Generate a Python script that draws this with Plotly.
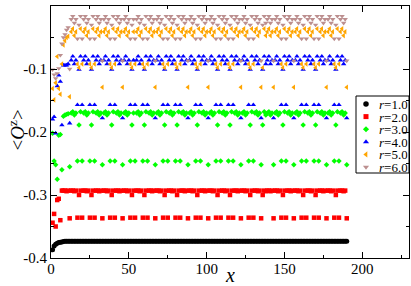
import plotly.graph_objects as go

# ---------------- data ----------------
X = list(range(1, 191))

PATTERN = ("acbLMaLbac" "bDbacbLMaL" "bacbLMaLba" "cbDbacbLMa" "LbacbDbacb"
           "LMbLbacbLM" "aLbacbDbac" "bLMaLbacbL" "MaLbacbDba" "cbLMaLbacb"
           "DbacbLMaLb" "acbLMaLbac" "bDbacbLMaL" "bacbDMacba" "cbDbacbLMa"
           "LbacbDbacb" "LMaLbacbLM" "aLbacbDbac" "bLMaLbacbD")

# band values of each series
LEV_R1 = {"a": -0.3735, "b": -0.3735, "c": -0.3735, "M": -0.3735, "L": -0.3735, "D": -0.3735}
LEV_R2 = {"a": -0.293, "b": -0.293, "c": -0.294, "M": -0.300, "L": -0.336, "D": -0.337}
LEV_R3 = {"a": -0.168, "b": -0.170, "c": -0.173, "M": -0.189, "L": -0.246, "D": -0.252}
LEV_R4 = {"a": -0.080, "b": -0.086, "c": -0.092, "M": -0.101, "L": -0.157, "D": -0.178}
LEV_R5 = {"a": -0.036, "b": -0.041, "c": -0.047, "M": -0.098, "L": -0.092, "D": -0.129}
LEV_R6 = {"a": -0.016, "b": -0.021, "c": -0.027, "M": -0.030, "L": -0.052, "D": -0.087}

# values near the open end (x = 1, 2, ...)
EARLY_R1 = [-0.387, -0.381, -0.378, -0.3765, -0.3755, -0.375, -0.3745, -0.374]
EARLY_R2 = [-0.344, -0.330, -0.350, -0.308, -0.306, -0.340, -0.293]
EARLY_R3 = [-0.202, -0.246, -0.252, -0.275, -0.205, -0.204, -0.260, -0.175, -0.173, -0.172, -0.171, -0.255]
EARLY_R4 = [-0.180, -0.176, -0.202, -0.127, -0.110, -0.120, -0.189, -0.094, -0.094, -0.094, -0.092, -0.186]
EARLY_R5 = [-0.131, -0.149, -0.122, -0.080, -0.131, -0.140, -0.092, -0.062, -0.055, -0.050, -0.048, -0.144]
EARLY_R6 = [-0.101, -0.109, -0.115, -0.107, -0.099, -0.078, -0.060, -0.050, -0.045, -0.038, -0.034, -0.100]

LABELS = ["1.0", "2.0", "3.0", "4.0", "5.0", "6.0"]
COLORS = ["#000000", "#ff0000", "#00ff00", "#0000ff", "#ffa500", "#bc8f8f"]
SYMBOLS = ["circle", "square", "diamond", "triangle-up", "triangle-left", "triangle-down"]
SIZES = [5, 4.5, 4.2, 4.8, 4.8, 4.8]

X_TICKS = [0, 50, 100, 150, 200]
Y_TICKS = [-0.4, -0.3, -0.2, -0.1, 0]
Y_TICKTEXT = ["-0.4", "-0.3", "-0.2", "-0.1", "0"]


def build(levels, early):
    ys = [levels[c] for c in PATTERN]
    ys[:len(early)] = early
    return ys


SERIES = [build(LEV_R1, EARLY_R1), build(LEV_R2, EARLY_R2), build(LEV_R3, EARLY_R3),
          build(LEV_R4, EARLY_R4), build(LEV_R5, EARLY_R5), build(LEV_R6, EARLY_R6)]

FONT = "Liberation Serif, Times New Roman, serif"

fig = go.Figure()
for ys, col, sym, sz in zip(SERIES, COLORS, SYMBOLS, SIZES):
    fig.add_trace(go.Scatter(x=X, y=ys, mode="markers", showlegend=False,
                             marker=dict(symbol=sym, color=col, size=sz, line=dict(width=0))))

# ---- legend box drawn on an overlay axis measured in pixels of the plot area ----
PW, PH = 358.0, 252.0
LEG_X0, LEG_Y0, LEG_X1, LEG_Y1 = 305.0, 90.0, 358.0, 167.0
LEG_FIRST, LEG_STEP = 98.0, 12.6
LEG_SYM_X, LEG_TXT_X = 315.0, 327.0
leg_y = [LEG_FIRST + i * LEG_STEP for i in range(len(LABELS))]
for i in range(len(LABELS)):
    fig.add_trace(go.Scatter(x=[LEG_SYM_X], y=[leg_y[i]], mode="markers", showlegend=False,
                             xaxis="x2", yaxis="y2", hoverinfo="skip",
                             marker=dict(symbol=SYMBOLS[i], color=COLORS[i], size=SIZES[i] + 0.5,
                                         line=dict(width=0))))
    fig.add_annotation(x=LEG_TXT_X, y=leg_y[i], xref="x2", yref="y2", xanchor="left",
                       yanchor="middle", showarrow=False, height=12, borderpad=0,
                       text="<i>r</i>=" + LABELS[i],
                       font=dict(family=FONT, size=13, color="black"))
fig.add_shape(type="rect", xref="x2", yref="y2", x0=LEG_X0, x1=LEG_X1, y0=LEG_Y0, y1=LEG_Y1,
              line=dict(color="black", width=1), fillcolor="white", layer="below")

# axis titles
fig.add_annotation(x=0.5, y=-0.067, xref="paper", yref="paper", showarrow=False,
                   xanchor="center", yanchor="middle", text="<i>x</i>", height=18, borderpad=0,
                   font=dict(family=FONT, size=20, color="black"))
fig.add_annotation(x=-0.095, y=0.51, xref="paper", yref="paper", showarrow=False,
                   xanchor="center", yanchor="middle", textangle=-90,
                   text="&lt;<i>O</i><sup>z</sup>&gt;",
                   font=dict(family=FONT, size=19, color="black"))

axis_common = dict(showline=True, linecolor="black", linewidth=1, mirror="allticks",
                   ticks="inside", ticklen=6, tickcolor="black", tickwidth=1,
                   showgrid=False, zeroline=False, automargin=False,
                   tickfont=dict(family=FONT, size=15, color="black"))

fig.update_layout(
    width=411, height=286,
    margin=dict(l=51, r=2, t=6, b=28),
    paper_bgcolor="white", plot_bgcolor="white",
    xaxis=dict(range=[0, 230], tickvals=X_TICKS, ticktext=[str(v) for v in X_TICKS],
               ticklabelstandoff=-3,
               minor=dict(ticks="inside", ticklen=3, dtick=25, tick0=0, tickcolor="black", showgrid=False),
               **axis_common),
    yaxis=dict(range=[-0.4, 0], tickvals=Y_TICKS, ticktext=Y_TICKTEXT,
               minor=dict(ticks="inside", ticklen=3, dtick=0.05, tick0=0, tickcolor="black", showgrid=False),
               **axis_common),
    xaxis2=dict(range=[0, PW], overlaying="x", visible=False, fixedrange=True),
    yaxis2=dict(range=[PH, 0], overlaying="y", visible=False, fixedrange=True),
    showlegend=False,
)

fig.write_html("out.html", config={"displayModeBar": False},
               post_script="document.body.style.margin='0px';")
